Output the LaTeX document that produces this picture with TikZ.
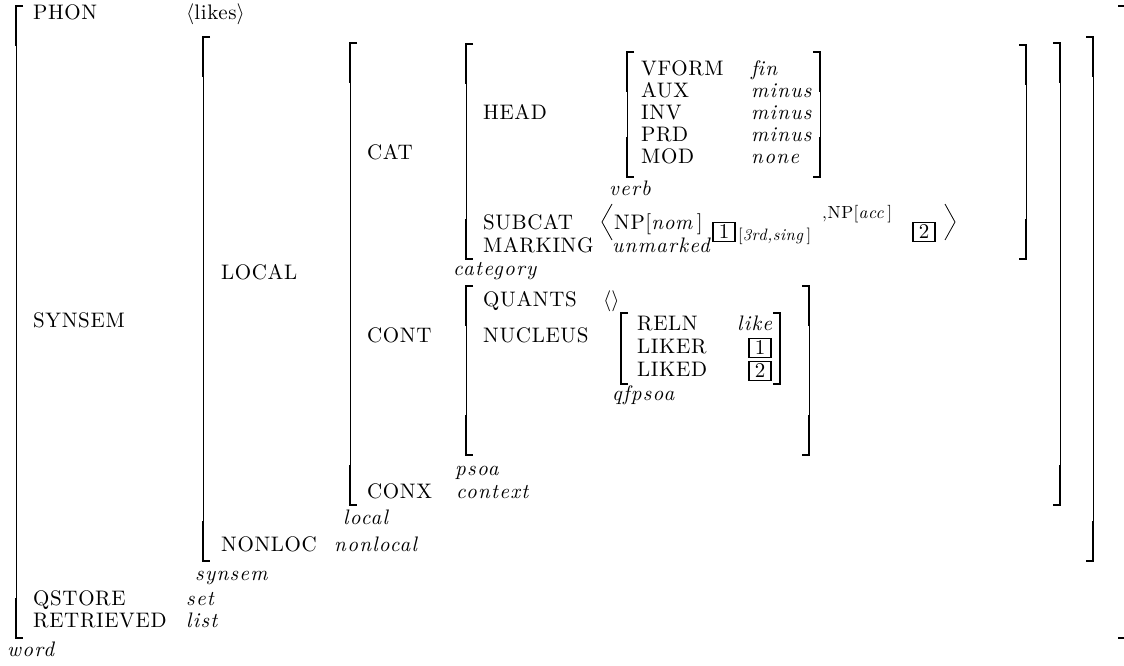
\RequirePackage{fix-cm}
\documentclass[tikz,border=0pt]{standalone}
\usepackage{fontspec}
\usetikzlibrary{positioning}
\newfontfamily\avmrm{lmroman10}[Extension=.otf, UprightFont=*-regular,
  ItalicFont=*-italic, LetterSpace=3]
\newfontfamily\avmit{lmroman10}[Extension=.otf, UprightFont=*-italic,
  LetterSpace=6]
\newcommand\avmfont{\avmrm\fontsize{21}{25}\selectfont}
\newcommand\avmval{\avmit\fontsize{21}{25}\selectfont}
\newcommand\avmsmall{\avmrm\fontsize{17.5}{20}\selectfont}
\newcommand\avmtiny{\avmrm\fontsize{16.5}{19}\selectfont}
% square brackets of a matrix: x, top, bottom
\newcommand\avmlb[3]{%
  \draw[brk] (#1,#2) -- (#1,#3);
  \draw[brkend] (#1+7,#2) -- (#1,#2) -- (#1,#2+40);
  \draw[brkend] (#1,#3-40) -- (#1,#3) -- (#1+7,#3);}
\newcommand\avmrb[3]{%
  \draw[brk] (#1,#2) -- (#1,#3);
  \draw[brkend] (#1-7,#2) -- (#1,#2) -- (#1,#2+40);
  \draw[brkend] (#1,#3-40) -- (#1,#3) -- (#1-7,#3);}
\tikzset{
  attr/.style={anchor=base west, inner sep=0pt, font=\avmfont},
  val/.style={anchor=base west, inner sep=0pt, font=\avmval},
  small/.style={anchor=base west, inner sep=0pt, font=\avmsmall},
  tiny/.style={anchor=base west, inner sep=0pt, font=\avmtiny},
  tag/.style={draw, line width=1.9pt, inner sep=0pt, minimum width=22pt,
    minimum height=19pt, font=\avmfont},
  brk/.style={line width=1pt},
  brkend/.style={line width=1.8pt},
  angl/.style={line width=0.8pt}
}
\begin{document}
\begin{tikzpicture}[x=1pt, y=-1pt]
\useasboundingbox (0,0) rectangle (1124,666);

% word
\avmlb{16}{6}{638}
\draw[brkend] (1118,6) -- (1124,6);
\draw[brkend] (1118,638) -- (1124,638);
\node[attr] (phon) at (33,20) {PHON};
\node[attr] (phonv) at (186,20) {$\langle$likes$\rangle$};
\node[attr] (synsem) at (33,327) {SYNSEM};
\node[attr] (qstore) at (33,605) {QSTORE};
\node[val] (qstorev) at (186,605) {set};
\node[attr] (retr) at (33,627) {RETRIEVED};
\node[val] (retrv) at (186,627) {list};
\node[val] (wordsort) at (7,656) {word};

% synsem
\avmlb{203}{37}{561}
\avmrb{1093}{37}{561}
\node[attr] (local) at (221,279) {LOCAL};
\node[attr] (nonloc) at (221,551) {NONLOC};
\node[val] (nonlocv) at (334,551) {nonlocal};
\node[val] (synsemsort) at (195,580) {synsem};

% local
\avmlb{350}{43}{505}
\avmrb{1060}{43}{505}
\node[attr] (cat) at (367,159) {CAT};
\node[attr] (cont) at (367,342) {CONT};
\node[attr] (conx) at (367,498) {CONX};
\node[val] (conxv) at (456,498) {context};
\node[val] (localsort) at (343,524) {local};

% category
\avmlb{466}{44}{259}
\avmrb{1026}{45}{259}
\node[attr] (head) at (483,120) {HEAD};
\node[attr] (subcat) at (483,229) {SUBCAT};
\node[attr] (marking) at (483,252) {MARKING};
\node[val] (markingv) at (612,252) {unmarked};
\node[val] (catsort) at (453,275) {category};

% verb
\avmlb{627}{52}{177}
\avmrb{820}{52}{177}
\node[attr] (vform) at (641,76) {VFORM};
\node[val] (vformv) at (751,76) {f\kern0pt in};
\node[attr] (aux) at (641,98) {AUX};
\node[val] (auxv) at (751,98) {minus};
\node[attr] (inv) at (641,120) {INV};
\node[val] (invv) at (751,120) {minus};
\node[attr] (prd) at (641,142) {PRD};
\node[val] (prdv) at (751,142) {minus};
\node[attr] (mod) at (641,164) {MOD};
\node[val] (modv) at (751,164) {none};
\node[val] (verbsort) at (609,195) {verb};

% subcat list
\draw[angl] (612,204) -- (602,222) -- (612,240);
\node[attr] (np1) at (614,229) {NP[\textit{nom}\,]};
\node[tag] (subtag1) at (724,232) {1};
\node[tiny] (agr) at (738,240) {[\textit{3rd,sing}\,]};
\node[small] (np2) at (822,218) {,NP[\textit{acc}\,]};
\node[tag] (subtag2) at (924,232) {2};
\draw[angl] (945,204) -- (955,222) -- (945,240);

% psoa
\avmlb{466}{286}{455}
\avmrb{809}{286}{455}
\node[attr] (quants) at (483,306) {QUANTS};
\node[attr] (quantsv) at (603,306) {$\langle\rangle$};
\node[attr] (nucleus) at (483,342) {NUCLEUS};
\node[val] (psoa) at (455,475) {psoa};

% qfpsoa
\avmlb{621}{313}{384}
\avmrb{780}{313}{384}
\node[attr] (reln) at (637,330) {RELN};
\node[val] (relnv) at (737,330) {like};
\node[attr] (liker) at (637,353) {LIKER};
\node[tag] (likertag) at (760,348) {1};
\node[attr] (liked) at (637,376) {LIKED};
\node[tag] (likedtag) at (760,371) {2};
\node[val] (qfpsoa) at (612,400) {qfpsoa};

\end{tikzpicture}
\end{document}
